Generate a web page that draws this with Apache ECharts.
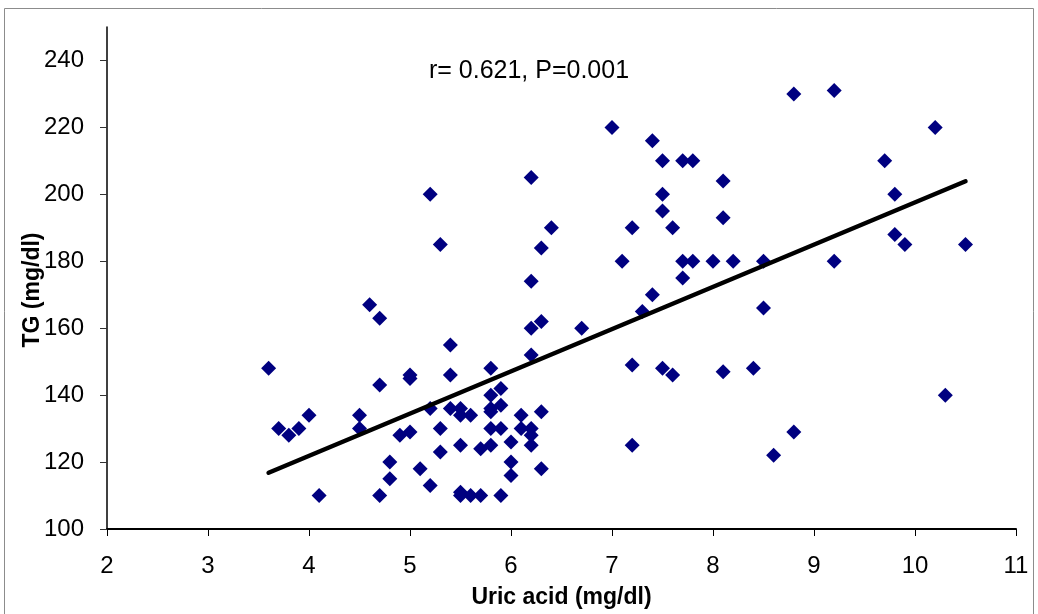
<!DOCTYPE html>
<html>
<head>
<meta charset="utf-8">
<script src="https://cdn.jsdelivr.net/npm/echarts@6/dist/echarts.min.js"></script>
<style>
  html, body { margin: 0; padding: 0; background: #fff; }
  #chart { width: 1038px; height: 614px; }
</style>
</head>
<body>
<div id="chart"></div>
<script>
// uric acid (mg/dl) vs TG (mg/dl)
var uricAcid = [
  3.6, 3.7, 3.8, 3.9, 4.0, 4.1, 4.5, 4.5, 4.6, 4.7, 4.7, 4.7, 4.8, 4.8, 4.9,
  5.0, 5.0, 5.0, 5.1, 5.2, 5.2, 5.2, 5.3, 5.3, 5.3, 5.4, 5.4, 5.4, 5.5, 5.5,
  5.5, 5.5, 5.5, 5.6, 5.6, 5.7, 5.7, 5.8, 5.8, 5.8, 5.8, 5.8, 5.8, 5.9, 5.9,
  5.9, 5.9, 6.0, 6.0, 6.0, 6.1, 6.1, 6.2, 6.2, 6.2, 6.2, 6.2, 6.2, 6.2, 6.3,
  6.3, 6.3, 6.3, 6.4, 6.7, 7.0, 7.1, 7.2, 7.2, 7.2, 7.3, 7.4, 7.4, 7.5, 7.5,
  7.5, 7.5, 7.6, 7.6, 7.7, 7.7, 7.7, 7.8, 7.8, 8.0, 8.1, 8.1, 8.1, 8.2, 8.4,
  8.5, 8.5, 8.6, 8.8, 8.8, 9.2, 9.2, 9.7, 9.8, 9.8, 9.9, 10.2, 10.3, 10.5
];
var tg = [
  148, 130, 128, 130, 134, 110, 134, 130, 167, 163, 143, 110, 120, 115, 128,
  146, 145, 129, 118, 200, 136, 113, 185, 130, 123, 155, 146, 136, 136, 134,
  125, 111, 110, 134, 110, 124, 110, 148, 140, 136, 135, 130, 125, 142, 137,
  130, 110, 126, 120, 116, 134, 130, 205, 174, 160, 152, 130, 128, 125, 184,
  162, 135, 118, 190, 160, 220, 180, 190, 149, 125, 165, 216, 170, 210, 200,
  195, 148, 190, 146, 210, 180, 175, 210, 180, 180, 204, 193, 147, 180, 148,
  180, 166, 122, 230, 129, 231, 180, 210, 200, 188, 185, 220, 140, 185
];

// fitted line end points
var trendX = [3.6, 10.5];
var trendY = [116.8, 203.9];

var yTicks = [100, 120, 140, 160, 180, 200, 220, 240];
var note = 'r= 0.621, P=0.001';
var yName = 'TG (mg/dl)';

var points = uricAcid.map(function (x, i) { return [x, tg[i]]; });
var trend = trendX.map(function (x, i) { return [x, trendY[i]]; });

var labelFont = 'Liberation Sans, Arial, sans-serif';

var myChart = echarts.init(document.getElementById('chart'));

var option = {
  backgroundColor: '#fff',
  animation: false,
  grid: { left: 107, right: 22, top: 27, bottom: 85 },
  xAxis: {
    type: 'value',
    min: 2,
    max: 11,
    interval: 1,
    name: 'Uric acid (mg/dl)',
    nameLocation: 'middle',
    nameGap: 57,
    nameTextStyle: { fontFamily: labelFont, fontSize: 23, fontWeight: 'bold', color: '#000' },
    axisLine: { lineStyle: { color: '#000', width: 2 } },
    axisTick: { show: true, inside: false, length: 7, lineStyle: { color: '#000' } },
    axisLabel: { margin: 25, fontFamily: labelFont, fontSize: 24, color: '#000' },
    splitLine: { show: false }
  },
  yAxis: {
    type: 'value',
    min: 100,
    max: 250,
    interval: 20,
    axisLine: { show: true, lineStyle: { color: '#000', width: 1.5 } },
    axisTick: { show: true, inside: false, length: 7, customValues: yTicks, lineStyle: { color: '#333' } },
    axisLabel: { margin: 23, customValues: yTicks, fontFamily: labelFont, fontSize: 24, color: '#000' },
    splitLine: { show: false }
  },
  graphic: [
    {
      type: 'rect',
      silent: true,
      shape: { x: 4.5, y: 8.5, width: 1029, height: 640 },
      style: { fill: 'none', stroke: '#8c8c8c', lineWidth: 1 }
    },
    {
      type: 'text',
      silent: true,
      x: 33,
      y: 290,
      rotation: Math.PI / 2,
      style: {
        text: yName,
        fontFamily: labelFont,
        fontSize: 23,
        fontWeight: 'bold',
        fill: '#000',
        align: 'center',
        verticalAlign: 'middle'
      }
    },
    {
      type: 'text',
      silent: true,
      x: 529,
      y: 71,
      style: {
        text: note,
        fontFamily: labelFont,
        fontSize: 25,
        fill: '#000',
        align: 'center',
        verticalAlign: 'middle'
      }
    }
  ],
  series: [
    {
      type: 'scatter',
      symbol: 'diamond',
      symbolSize: 15,
      itemStyle: { color: '#000080', opacity: 1 },
      data: points,
      z: 3
    },
    {
      type: 'line',
      data: trend,
      showSymbol: false,
      symbol: 'none',
      lineStyle: { color: '#000', width: 4.5, cap: 'round' },
      z: 4
    }
  ]
};

myChart.setOption(option);
</script>
</body>
</html>
